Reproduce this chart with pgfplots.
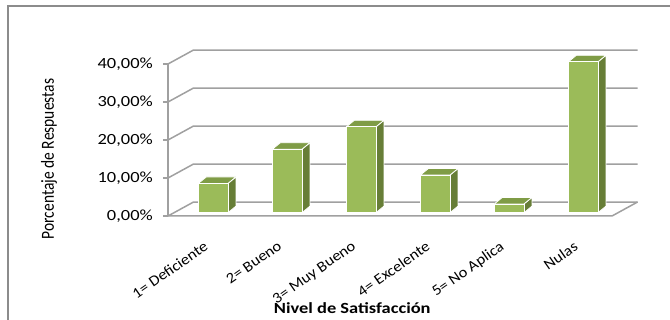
\documentclass[border=0pt]{standalone}
\usepackage{pgfplots}
\pgfplotsset{compat=1.18}
\usepackage{pgfplotstable}
\usepackage{graphicx}
\usepackage{fontspec}
\setmainfont{Carlito}[FakeStretch=1.19]
\newfontfamily\plainfont{Carlito}
\newfontfamily\diagfont{Carlito}[FakeStretch=1.1]
\definecolor{barfront}{HTML}{9BBB59}
\definecolor{barside}{HTML}{677E37}
\definecolor{bartop}{HTML}{7F9C46}
\definecolor{gridc}{HTML}{A0A0A0}
\definecolor{framec}{HTML}{8C8C8C}

\pgfplotstableread{
idx val
0 7.7
1 16.7
2 22.6
3 9.9
4 2.3
5 39.7
}\bardata

\begin{document}
\begin{tikzpicture}[font=\fontsize{15.5}{18}\selectfont]
\begin{axis}[
  x=74pt, y=3.8pt,
  xmin=0, xmax=6, ymin=0, ymax=40,
  clip=false,
  axis x line*=bottom, axis y line*=left,
  x axis line style={draw=none},
  y axis line style={gridc, line width=1.5pt},
  xtick={0.5,1.5,2.5,3.5,4.5,5.5},
  xticklabels={1= Deficiente, 2= Bueno, 3= Muy Bueno, 4= Excelente, 5= No Aplica, Nulas},
  xtick style={draw=none},
  ytick={0,10,20,30,40},
  yticklabels={{0,00\%},{10,00\%},{20,00\%},{30,00\%},{40,00\%}},
  ytick style={gridc, line width=1.2pt},
  tick align=outside,
  major tick length=5pt,
  xticklabel style={font=\diagfont\fontsize{15}{18}\selectfont, xshift=-2pt, yshift=-19pt, rotate=35, anchor=north east, inner sep=0pt},
  yticklabel style={xshift=-10pt, anchor=east, inner sep=0pt},
  xlabel={\textbf{Nivel de Satisfacción}},
  xlabel style={at={(axis description cs:0.415,0)}, anchor=base, yshift=-98pt},
  ylabel={\scalebox{1}[1.19]{Porcentaje de Respuestas}},
  ylabel style={at={(axis description cs:-0.268,0.375)}, anchor=center, font=\plainfont\fontsize{15.5}{18}\selectfont},
]
\coordinate (O) at (axis cs:0,0);
% walls
\draw[gridc, line width=1.5pt] (axis cs:0,0) -- (axis cs:0.345,3.68) -- (axis cs:6.345,3.68);
\draw[gridc, line width=1.5pt] (axis cs:0,10) -- (axis cs:0.345,13.68) -- (axis cs:6.345,13.68);
\draw[gridc, line width=1.5pt] (axis cs:0,20) -- (axis cs:0.345,23.68) -- (axis cs:6.345,23.68);
\draw[gridc, line width=1.5pt] (axis cs:0,30) -- (axis cs:0.345,33.68) -- (axis cs:6.345,33.68);
\draw[gridc, line width=1.5pt] (axis cs:0,40) -- (axis cs:0.345,43.68) -- (axis cs:6.345,43.68);
% floor
\draw[gridc, line width=1.5pt] (axis cs:0,0) -- (axis cs:6,0) -- (axis cs:6.345,3.68);
% bars
\pgfplotsforeachungrouped \i in {0,...,5}{
  \pgfplotstablegetelem{\i}{val}\of\bardata
  \let\bv\pgfplotsretval
  \pgfmathsetmacro\xa{\i+0.61-0.2}
  \pgfmathsetmacro\xb{\i+0.61+0.2}
  \pgfmathsetmacro\xc{\xb+0.108}
  \pgfmathsetmacro\xd{\xa+0.108}
  \pgfmathsetmacro\yb{0.87}
  \pgfmathsetmacro\yt{\bv+0.87}
  \pgfmathsetmacro\ybb{0.87+1.71}
  \pgfmathsetmacro\ytt{\yt+1.71}
  \edef\tmp{%
    \noexpand\addplot[fill=barside, draw=white, line width=0.8pt] coordinates {(\xb,\yb) (\xc,\ybb) (\xc,\ytt) (\xb,\yt) (\xb,\yb)};
    \noexpand\addplot[fill=bartop, draw=white, line width=0.8pt] coordinates {(\xa,\yt) (\xb,\yt) (\xc,\ytt) (\xd,\ytt) (\xa,\yt)};
    \noexpand\addplot[fill=barfront, draw=white, line width=0.8pt] coordinates {(\xa,\yb) (\xb,\yb) (\xb,\yt) (\xa,\yt) (\xa,\yb)};
  }%
  \tmp
}
\end{axis}
\pgfresetboundingbox
\path[use as bounding box] ([shift={(-168pt,-104pt)}]O) rectangle ([shift={(502pt,216pt)}]O);
\draw[framec, line width=2pt] ([shift={(-160pt,-130pt)}]O) -- ([shift={(-160pt,210pt)}]O) -- ([shift={(520pt,210pt)}]O);
\end{tikzpicture}
\end{document}
